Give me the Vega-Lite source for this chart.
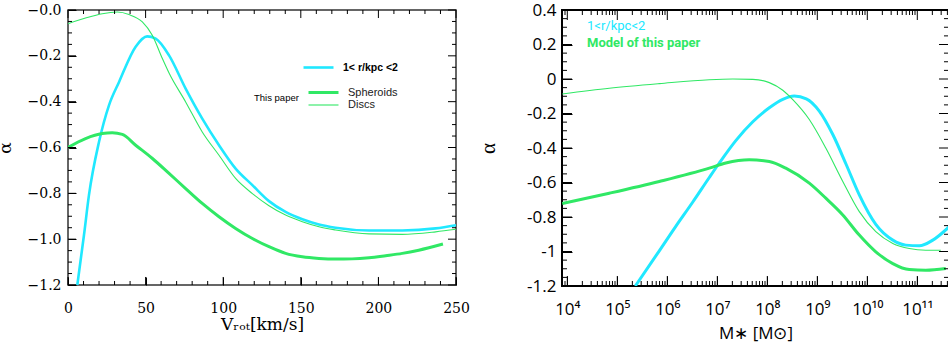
{
  "$schema": "https://vega.github.io/schema/vega-lite/v6.json",
  "padding": {"left": -5, "top": 0, "right": 0, "bottom": 0},
  "background": "white",
  "bounds": "flush",
  "spacing": 106,
  "resolve": {"scale": {"color": "independent", "strokeWidth": "independent"}, "legend": {"color": "independent", "strokeWidth": "independent"}},
  "config": {
    "view": {"stroke": "black", "strokeWidth": 1.5},
    "axis": {"labelColor": "black", "titleColor": "black", "domain": false, "grid": false, "labelFlush": false, "labelOverlap": false},
    "legend": {"padding": 0},
    "rule": {"color": "black", "strokeWidth": 1}
  },
  "datasets": {
    "lx_major": [{"t": 0}, {"t": 50}, {"t": 100}, {"t": 150}, {"t": 200}, {"t": 250}],
    "lx_minor": [{"t": 10}, {"t": 20}, {"t": 30}, {"t": 40}, {"t": 60}, {"t": 70}, {"t": 80}, {"t": 90}, {"t": 110}, {"t": 120}, {"t": 130}, {"t": 140}, {"t": 160}, {"t": 170}, {"t": 180}, {"t": 190}, {"t": 210}, {"t": 220}, {"t": 230}, {"t": 240}],
    "ly_major": [{"t": -1.2}, {"t": -1.0}, {"t": -0.8}, {"t": -0.6}, {"t": -0.4}, {"t": -0.2}, {"t": 0}],
    "ly_minor": [{"t": -1.15}, {"t": -1.1}, {"t": -1.05}, {"t": -0.95}, {"t": -0.9}, {"t": -0.85}, {"t": -0.75}, {"t": -0.7}, {"t": -0.65}, {"t": -0.55}, {"t": -0.5}, {"t": -0.45}, {"t": -0.35}, {"t": -0.3}, {"t": -0.25}, {"t": -0.15}, {"t": -0.1}, {"t": -0.05}],
    "rx_major": [{"t": 1e4}, {"t": 1e5}, {"t": 1e6}, {"t": 1e7}, {"t": 1e8}, {"t": 1e9}, {"t": 1e10}, {"t": 1e11}],
    "rx_minor": [{"t": 8000}, {"t": 9000}, {"t": 2e4}, {"t": 3e4}, {"t": 4e4}, {"t": 5e4}, {"t": 6e4}, {"t": 7e4}, {"t": 8e4}, {"t": 9e4}, {"t": 2e5}, {"t": 3e5}, {"t": 4e5}, {"t": 5e5}, {"t": 6e5}, {"t": 7e5}, {"t": 8e5}, {"t": 9e5}, {"t": 2e6}, {"t": 3e6}, {"t": 4e6}, {"t": 5e6}, {"t": 6e6}, {"t": 7e6}, {"t": 8e6}, {"t": 9e6}, {"t": 2e7}, {"t": 3e7}, {"t": 4e7}, {"t": 5e7}, {"t": 6e7}, {"t": 7e7}, {"t": 8e7}, {"t": 9e7}, {"t": 2e8}, {"t": 3e8}, {"t": 4e8}, {"t": 5e8}, {"t": 6e8}, {"t": 7e8}, {"t": 8e8}, {"t": 9e8}, {"t": 2e9}, {"t": 3e9}, {"t": 4e9}, {"t": 5e9}, {"t": 6e9}, {"t": 7e9}, {"t": 8e9}, {"t": 9e9}, {"t": 2e10}, {"t": 3e10}, {"t": 4e10}, {"t": 5e10}, {"t": 6e10}, {"t": 7e10}, {"t": 8e10}, {"t": 9e10}, {"t": 2e11}, {"t": 3e11}, {"t": 4e11}],
    "ry_major": [{"t": -1.2}, {"t": -1.0}, {"t": -0.8}, {"t": -0.6}, {"t": -0.4}, {"t": -0.2}, {"t": 0}, {"t": 0.2}, {"t": 0.4}],
    "ry_minor": [{"t": -1.15}, {"t": -1.1}, {"t": -1.05}, {"t": -0.95}, {"t": -0.9}, {"t": -0.85}, {"t": -0.75}, {"t": -0.7}, {"t": -0.65}, {"t": -0.55}, {"t": -0.5}, {"t": -0.45}, {"t": -0.35}, {"t": -0.3}, {"t": -0.25}, {"t": -0.15}, {"t": -0.1}, {"t": -0.05}, {"t": 0.05}, {"t": 0.1}, {"t": 0.15}, {"t": 0.25}, {"t": 0.3}, {"t": 0.35}],
    "left": [
      {"series": "1< r/kpc  <2", "v": 6.0, "alpha": -1.2},
      {"series": "1< r/kpc  <2", "v": 10.3, "alpha": -0.982},
      {"series": "1< r/kpc  <2", "v": 13.5, "alpha": -0.808},
      {"series": "1< r/kpc  <2", "v": 20.0, "alpha": -0.575},
      {"series": "1< r/kpc  <2", "v": 26.4, "alpha": -0.416},
      {"series": "1< r/kpc  <2", "v": 32.9, "alpha": -0.314},
      {"series": "1< r/kpc  <2", "v": 43.6, "alpha": -0.16},
      {"series": "1< r/kpc  <2", "v": 51.0, "alpha": -0.115},
      {"series": "1< r/kpc  <2", "v": 56.5, "alpha": -0.125},
      {"series": "1< r/kpc  <2", "v": 65.1, "alpha": -0.198},
      {"series": "1< r/kpc  <2", "v": 75.8, "alpha": -0.343},
      {"series": "1< r/kpc  <2", "v": 86.5, "alpha": -0.474},
      {"series": "1< r/kpc  <2", "v": 97.3, "alpha": -0.59},
      {"series": "1< r/kpc  <2", "v": 108.0, "alpha": -0.692},
      {"series": "1< r/kpc  <2", "v": 118.8, "alpha": -0.764},
      {"series": "1< r/kpc  <2", "v": 129.5, "alpha": -0.834},
      {"series": "1< r/kpc  <2", "v": 140.2, "alpha": -0.881},
      {"series": "1< r/kpc  <2", "v": 151.0, "alpha": -0.913},
      {"series": "1< r/kpc  <2", "v": 161.7, "alpha": -0.936},
      {"series": "1< r/kpc  <2", "v": 172.4, "alpha": -0.95},
      {"series": "1< r/kpc  <2", "v": 194.0, "alpha": -0.962},
      {"series": "1< r/kpc  <2", "v": 215.4, "alpha": -0.962},
      {"series": "1< r/kpc  <2", "v": 236.9, "alpha": -0.953},
      {"series": "1< r/kpc  <2", "v": 250.0, "alpha": -0.939},
      {"series": "Spheroids", "v": 0, "alpha": -0.6},
      {"series": "Spheroids", "v": 11.3, "alpha": -0.561},
      {"series": "Spheroids", "v": 22.1, "alpha": -0.539},
      {"series": "Spheroids", "v": 28.5, "alpha": -0.536},
      {"series": "Spheroids", "v": 35.0, "alpha": -0.543},
      {"series": "Spheroids", "v": 43.6, "alpha": -0.59},
      {"series": "Spheroids", "v": 54.4, "alpha": -0.648},
      {"series": "Spheroids", "v": 65.1, "alpha": -0.713},
      {"series": "Spheroids", "v": 75.8, "alpha": -0.779},
      {"series": "Spheroids", "v": 86.5, "alpha": -0.844},
      {"series": "Spheroids", "v": 97.3, "alpha": -0.902},
      {"series": "Spheroids", "v": 108.0, "alpha": -0.953},
      {"series": "Spheroids", "v": 118.8, "alpha": -0.997},
      {"series": "Spheroids", "v": 129.5, "alpha": -1.033},
      {"series": "Spheroids", "v": 140.2, "alpha": -1.062},
      {"series": "Spheroids", "v": 151.0, "alpha": -1.077},
      {"series": "Spheroids", "v": 161.7, "alpha": -1.084},
      {"series": "Spheroids", "v": 172.4, "alpha": -1.087},
      {"series": "Spheroids", "v": 183.0, "alpha": -1.086},
      {"series": "Spheroids", "v": 194.0, "alpha": -1.081},
      {"series": "Spheroids", "v": 204.7, "alpha": -1.072},
      {"series": "Spheroids", "v": 215.4, "alpha": -1.062},
      {"series": "Spheroids", "v": 226.0, "alpha": -1.048},
      {"series": "Spheroids", "v": 241.6, "alpha": -1.021},
      {"series": "Discs", "v": 0, "alpha": -0.06},
      {"series": "Discs", "v": 11.3, "alpha": -0.035},
      {"series": "Discs", "v": 22.1, "alpha": -0.016},
      {"series": "Discs", "v": 31.8, "alpha": -0.009},
      {"series": "Discs", "v": 39.3, "alpha": -0.02},
      {"series": "Discs", "v": 47.9, "alpha": -0.052},
      {"series": "Discs", "v": 54.3, "alpha": -0.11},
      {"series": "Discs", "v": 60.8, "alpha": -0.212},
      {"series": "Discs", "v": 65.1, "alpha": -0.275},
      {"series": "Discs", "v": 75.8, "alpha": -0.401},
      {"series": "Discs", "v": 86.5, "alpha": -0.532},
      {"series": "Discs", "v": 97.3, "alpha": -0.634},
      {"series": "Discs", "v": 108.0, "alpha": -0.735},
      {"series": "Discs", "v": 118.8, "alpha": -0.801},
      {"series": "Discs", "v": 129.5, "alpha": -0.854},
      {"series": "Discs", "v": 140.2, "alpha": -0.895},
      {"series": "Discs", "v": 151.0, "alpha": -0.924},
      {"series": "Discs", "v": 161.7, "alpha": -0.946},
      {"series": "Discs", "v": 172.4, "alpha": -0.96},
      {"series": "Discs", "v": 194.0, "alpha": -0.977},
      {"series": "Discs", "v": 215.4, "alpha": -0.979},
      {"series": "Discs", "v": 236.9, "alpha": -0.968},
      {"series": "Discs", "v": 250.0, "alpha": -0.957}
    ],
    "right": [
      {"curve": "obs", "src": "1<r/kpc<2", "M": 229087, "alpha": -1.2},
      {"curve": "obs", "src": "1<r/kpc<2", "M": 691831, "alpha": -0.996},
      {"curve": "obs", "src": "1<r/kpc<2", "M": 1479108, "alpha": -0.854},
      {"curve": "obs", "src": "1<r/kpc<2", "M": 3235937, "alpha": -0.713},
      {"curve": "obs", "src": "1<r/kpc<2", "M": 6918310, "alpha": -0.571},
      {"curve": "obs", "src": "1<r/kpc<2", "M": 10964782, "alpha": -0.487},
      {"curve": "obs", "src": "1<r/kpc<2", "M": 23442288, "alpha": -0.357},
      {"curve": "obs", "src": "1<r/kpc<2", "M": 51286138, "alpha": -0.248},
      {"curve": "obs", "src": "1<r/kpc<2", "M": 109647820, "alpha": -0.167},
      {"curve": "obs", "src": "1<r/kpc<2", "M": 204173794, "alpha": -0.118},
      {"curve": "obs", "src": "1<r/kpc<2", "M": 346736850, "alpha": -0.099},
      {"curve": "obs", "src": "1<r/kpc<2", "M": 602559586, "alpha": -0.115},
      {"curve": "obs", "src": "1<r/kpc<2", "M": 1096478196, "alpha": -0.186},
      {"curve": "obs", "src": "1<r/kpc<2", "M": 2041737945, "alpha": -0.322},
      {"curve": "obs", "src": "1<r/kpc<2", "M": 3801893963, "alpha": -0.497},
      {"curve": "obs", "src": "1<r/kpc<2", "M": 6918309709, "alpha": -0.672},
      {"curve": "obs", "src": "1<r/kpc<2", "M": 14791083882, "alpha": -0.843},
      {"curve": "obs", "src": "1<r/kpc<2", "M": 32359365693, "alpha": -0.934},
      {"curve": "obs", "src": "1<r/kpc<2", "M": 58884365536, "alpha": -0.963},
      {"curve": "obs", "src": "1<r/kpc<2", "M": 109647819614, "alpha": -0.967},
      {"curve": "obs", "src": "1<r/kpc<2", "M": 204173794467, "alpha": -0.934},
      {"curve": "obs", "src": "1<r/kpc<2", "M": 436515832240, "alpha": -0.856},
      {"curve": "model_1", "src": "Model of this paper", "M": 7943, "alpha": -0.722},
      {"curve": "model_1", "src": "Model of this paper", "M": 69183, "alpha": -0.662},
      {"curve": "model_1", "src": "Model of this paper", "M": 691831, "alpha": -0.594},
      {"curve": "model_1", "src": "Model of this paper", "M": 6918310, "alpha": -0.517},
      {"curve": "model_1", "src": "Model of this paper", "M": 14791084, "alpha": -0.487},
      {"curve": "model_1", "src": "Model of this paper", "M": 43651583, "alpha": -0.468},
      {"curve": "model_1", "src": "Model of this paper", "M": 109647820, "alpha": -0.478},
      {"curve": "model_1", "src": "Model of this paper", "M": 234422882, "alpha": -0.517},
      {"curve": "model_1", "src": "Model of this paper", "M": 691830971, "alpha": -0.604},
      {"curve": "model_1", "src": "Model of this paper", "M": 1479108388, "alpha": -0.691},
      {"curve": "model_1", "src": "Model of this paper", "M": 3235936569, "alpha": -0.788},
      {"curve": "model_1", "src": "Model of this paper", "M": 6918309709, "alpha": -0.905},
      {"curve": "model_1", "src": "Model of this paper", "M": 14791083882, "alpha": -1.002},
      {"curve": "model_1", "src": "Model of this paper", "M": 32359365693, "alpha": -1.07},
      {"curve": "model_1", "src": "Model of this paper", "M": 69183097092, "alpha": -1.105},
      {"curve": "model_1", "src": "Model of this paper", "M": 147910838817, "alpha": -1.109},
      {"curve": "model_1", "src": "Model of this paper", "M": 371535229097, "alpha": -1.099},
      {"curve": "model_2", "src": "Model of this paper", "M": 7943, "alpha": -0.087},
      {"curve": "model_2", "src": "Model of this paper", "M": 69183, "alpha": -0.054},
      {"curve": "model_2", "src": "Model of this paper", "M": 691831, "alpha": -0.027},
      {"curve": "model_2", "src": "Model of this paper", "M": 6918310, "alpha": -0.004},
      {"curve": "model_2", "src": "Model of this paper", "M": 20417379, "alpha": 0.0},
      {"curve": "model_2", "src": "Model of this paper", "M": 51286138, "alpha": -0.002},
      {"curve": "model_2", "src": "Model of this paper", "M": 109647820, "alpha": -0.021},
      {"curve": "model_2", "src": "Model of this paper", "M": 204173794, "alpha": -0.065},
      {"curve": "model_2", "src": "Model of this paper", "M": 323593657, "alpha": -0.12},
      {"curve": "model_2", "src": "Model of this paper", "M": 691830971, "alpha": -0.235},
      {"curve": "model_2", "src": "Model of this paper", "M": 1479108388, "alpha": -0.4},
      {"curve": "model_2", "src": "Model of this paper", "M": 3235936569, "alpha": -0.594},
      {"curve": "model_2", "src": "Model of this paper", "M": 6918309709, "alpha": -0.769},
      {"curve": "model_2", "src": "Model of this paper", "M": 14791083882, "alpha": -0.885},
      {"curve": "model_2", "src": "Model of this paper", "M": 32359365693, "alpha": -0.953},
      {"curve": "model_2", "src": "Model of this paper", "M": 69183097092, "alpha": -0.983},
      {"curve": "model_2", "src": "Model of this paper", "M": 147910838817, "alpha": -0.993},
      {"curve": "model_2", "src": "Model of this paper", "M": 295120922667, "alpha": -0.993}
    ]
  },
  "hconcat": [
    {
      "width": 388,
      "height": 275,
      "view": {"stroke": "#333333", "strokeWidth": 1.5},
      "data": {"name": "left"},
      "resolve": {"axis": {"x": "independent", "y": "independent"}},
      "layer": [
        {
          "transform": [{"filter": "datum.series === '1< r/kpc  <2'"}],
          "mark": {"type": "line", "strokeWidth": 2.6, "clip": true, "interpolate": "monotone"},
          "encoding": {
            "x": {"field": "v", "type": "quantitative", "scale": {"domain": [0, 250], "nice": false, "zero": false},
              "axis": {"orient": "bottom", "offset": -8, "tickSize": 8, "tickColor": "black", "ticks": true, "values": [0, 50, 100, 150, 200, 250],
                "labelFont": "DejaVu Serif", "labelFontSize": 14, "labelPadding": 16,
                "title": "Vᵣₒₜ[km/s]", "titleFont": "DejaVu Serif", "titleFontSize": 17, "titleFontWeight": "normal", "titlePadding": 1}},
            "y": {"field": "alpha", "type": "quantitative", "scale": {"domain": [-1.2, 0], "nice": false, "zero": false},
              "axis": {"orient": "left", "offset": -8, "tickSize": 8, "tickColor": "black", "ticks": true, "values": [-1.2, -1, -0.8, -0.6, -0.4, -0.2, 0],
                "labelExpr": "datum.value === 0 ? '−0.0' : format(datum.value, '.1f')",
                "labelFont": "DejaVu Serif", "labelFontSize": 14, "labelPadding": 7,
                "title": "α", "titleFont": "DejaVu Serif", "titleFontSize": 17, "titleFontWeight": "normal", "titlePadding": 13}},
            "color": {"field": "series", "type": "nominal", "scale": {"domain": ["1< r/kpc  <2"], "range": ["#20e8ff"]},
              "legend": {"orient": "none", "legendX": 234, "legendY": 51, "title": null, "symbolType": "M-1,0H5", "symbolSize": 100, "symbolStrokeWidth": 2.6,
                "labelFont": "Liberation Sans", "labelFontSize": 10.5, "labelFontWeight": "bold", "labelColor": "black", "labelOffset": 28}}
          }
        },
        {
          "transform": [{"filter": "datum.series === 'Spheroids'"}],
          "mark": {"type": "line", "color": "#30e865", "clip": true, "interpolate": "monotone"},
          "encoding": {
            "x": {"field": "v", "type": "quantitative", "axis": null},
            "y": {"field": "alpha", "type": "quantitative", "axis": null},
            "strokeWidth": {"field": "series", "type": "ordinal", "scale": {"domain": ["Spheroids", "Discs"], "range": [3, 1.1]},
              "legend": {"orient": "none", "legendX": 186, "legendY": 76, "title": "This paper", "titleOrient": "left", "titleFont": "Liberation Sans", "titleFontSize": 9.5, "titleFontWeight": "normal", "titleColor": "black", "titlePadding": 8,
                "symbolType": "M-1,0H5", "symbolSize": 100, "symbolStrokeColor": "#30e865", "labelOffset": 28, "labelFont": "Liberation Sans", "labelFontSize": 11, "labelColor": "#222222", "rowPadding": -1}}
          }
        },
        {
          "transform": [{"filter": "datum.series === 'Discs'"}],
          "mark": {"type": "line", "color": "#30e865", "clip": true, "interpolate": "monotone"},
          "encoding": {
            "x": {"field": "v", "type": "quantitative", "axis": null},
            "y": {"field": "alpha", "type": "quantitative", "axis": null},
            "strokeWidth": {"field": "series", "type": "ordinal", "scale": {"domain": ["Spheroids", "Discs"], "range": [3, 1.1]}}
          }
        },
        {
          "data": {"name": "lx_major"},
          "mark": {"type": "rule", "color": "black", "strokeWidth": 1},
          "encoding": {"x": {"field": "t", "type": "quantitative", "axis": null}, "y": {"datum": -1.2, "axis": null}, "y2": {"datum": -1.165}}
        },
        {
          "data": {"name": "lx_major"},
          "mark": {"type": "rule", "color": "black", "strokeWidth": 1},
          "encoding": {"x": {"field": "t", "type": "quantitative", "axis": null}, "y": {"datum": 0, "axis": null}, "y2": {"datum": -0.035}}
        },
        {
          "data": {"name": "lx_minor"},
          "mark": {"type": "rule", "color": "black", "strokeWidth": 1},
          "encoding": {"x": {"field": "t", "type": "quantitative", "axis": null}, "y": {"datum": -1.2, "axis": null}, "y2": {"datum": -1.1825}}
        },
        {
          "data": {"name": "lx_minor"},
          "mark": {"type": "rule", "color": "black", "strokeWidth": 1},
          "encoding": {"x": {"field": "t", "type": "quantitative", "axis": null}, "y": {"datum": 0, "axis": null}, "y2": {"datum": -0.0175}}
        },
        {
          "data": {"name": "ly_major"},
          "mark": {"type": "rule", "color": "black", "strokeWidth": 1},
          "encoding": {"y": {"field": "t", "type": "quantitative", "axis": null}, "x": {"datum": 0, "axis": null}, "x2": {"datum": 5.15}}
        },
        {
          "data": {"name": "ly_major"},
          "mark": {"type": "rule", "color": "black", "strokeWidth": 1},
          "encoding": {"y": {"field": "t", "type": "quantitative", "axis": null}, "x": {"datum": 250, "axis": null}, "x2": {"datum": 244.85}}
        },
        {
          "data": {"name": "ly_minor"},
          "mark": {"type": "rule", "color": "black", "strokeWidth": 1},
          "encoding": {"y": {"field": "t", "type": "quantitative", "axis": null}, "x": {"datum": 0, "axis": null}, "x2": {"datum": 2.58}}
        },
        {
          "data": {"name": "ly_minor"},
          "mark": {"type": "rule", "color": "black", "strokeWidth": 1},
          "encoding": {"y": {"field": "t", "type": "quantitative", "axis": null}, "x": {"datum": 250, "axis": null}, "x2": {"datum": 247.42}}
        }
      ]
    },
    {
      "width": 387,
      "height": 276,
      "view": {"stroke": "black", "strokeWidth": 2},
      "data": {"name": "right"},
      "resolve": {"axis": {"x": "independent", "y": "independent"}},
      "layer": [
        {
          "transform": [{"filter": "datum.curve === 'obs'"}],
          "mark": {"type": "line", "strokeWidth": 3, "clip": true, "interpolate": "monotone"},
          "encoding": {
            "x": {"field": "M", "type": "quantitative", "scale": {"type": "log", "domain": [7834, 430500000000], "nice": false},
              "axis": {"orient": "bottom", "offset": -10, "tickSize": 10, "tickColor": "black", "ticks": true, "values": [1e4,1e5,1e6,1e7,1e8,1e9,1e10,1e11],
                "labelExpr": "'10' + ['⁰','¹','²','³','⁴','⁵','⁶','⁷','⁸','⁹','¹⁰','¹¹'][round(log(datum.value)/LN10)]",
                "labelFont": "Open Sans", "labelFontSize": 17, "labelPadding": 15,
                "title": "M∗ [M⊙]", "titleFont": "Open Sans", "titleFontSize": 17, "titleFontWeight": "normal", "titlePadding": 8}},
            "y": {"field": "alpha", "type": "quantitative", "scale": {"domain": [-1.2, 0.4], "nice": false, "zero": false},
              "axis": {"orient": "left", "offset": -10, "tickSize": 10, "tickColor": "black", "ticks": true, "values": [-1.2,-1,-0.8,-0.6,-0.4,-0.2,0,0.2,0.4],
                "labelExpr": "replace(format(datum.value, '.1~f'), '−', '-')",
                "labelFont": "Open Sans", "labelFontSize": 17, "labelPadding": 6,
                "title": "α", "titleFont": "Liberation Serif", "titleFontSize": 21, "titleFontWeight": "normal", "titlePadding": 28}},
            "color": {"field": "src", "type": "nominal", "scale": {"domain": ["1<r/kpc<2", "Model of this paper"], "range": ["#20e8ff", "#30e865"]},
              "legend": {"orient": "none", "legendX": 12, "legendY": 9, "title": null, "symbolOpacity": 0, "symbolStrokeWidth": 0, "symbolSize": 1, "labelOffset": 0, "rowPadding": 3,
                "labelFont": "Liberation Sans Narrow, Roboto", "labelFontSize": 13,
                "encode": {"labels": {"update": {"fill": {"signal": "datum.value === 'Model of this paper' ? '#30e865' : '#20e8ff'"}, "fontWeight": {"signal": "datum.value === 'Model of this paper' ? 'bold' : 'normal'"}}}}}}
          }
        },
        {
          "transform": [{"filter": "datum.curve === 'model_1'"}],
          "mark": {"type": "line", "strokeWidth": 3, "clip": true, "interpolate": "monotone"},
          "encoding": {
            "x": {"field": "M", "type": "quantitative", "axis": null},
            "y": {"field": "alpha", "type": "quantitative", "axis": null},
            "color": {"field": "src", "type": "nominal"}
          }
        },
        {
          "transform": [{"filter": "datum.curve === 'model_2'"}],
          "mark": {"type": "line", "strokeWidth": 1.1, "clip": true, "interpolate": "monotone"},
          "encoding": {
            "x": {"field": "M", "type": "quantitative", "axis": null},
            "y": {"field": "alpha", "type": "quantitative", "axis": null},
            "color": {"field": "src", "type": "nominal"}
          }
        },
        {
          "data": {"name": "rx_major"},
          "mark": {"type": "rule", "color": "black", "strokeWidth": 1},
          "encoding": {"x": {"field": "t", "type": "quantitative", "axis": null}, "y": {"datum": -1.2, "axis": null}, "y2": {"datum": -1.142}}
        },
        {
          "data": {"name": "rx_major"},
          "mark": {"type": "rule", "color": "black", "strokeWidth": 1},
          "encoding": {"x": {"field": "t", "type": "quantitative", "axis": null}, "y": {"datum": 0.4, "axis": null}, "y2": {"datum": 0.342}}
        },
        {
          "data": {"name": "rx_minor"},
          "mark": {"type": "rule", "color": "black", "strokeWidth": 1},
          "encoding": {"x": {"field": "t", "type": "quantitative", "axis": null}, "y": {"datum": -1.2, "axis": null}, "y2": {"datum": -1.171}}
        },
        {
          "data": {"name": "rx_minor"},
          "mark": {"type": "rule", "color": "black", "strokeWidth": 1},
          "encoding": {"x": {"field": "t", "type": "quantitative", "axis": null}, "y": {"datum": 0.4, "axis": null}, "y2": {"datum": 0.371}}
        },
        {
          "data": {"name": "ry_major"},
          "mark": {"type": "rule", "color": "black", "strokeWidth": 1},
          "encoding": {"y": {"field": "t", "type": "quantitative", "axis": null}, "x": {"datum": 7834, "axis": null}, "x2": {"datum": 12416}}
        },
        {
          "data": {"name": "ry_major"},
          "mark": {"type": "rule", "color": "black", "strokeWidth": 1},
          "encoding": {"y": {"field": "t", "type": "quantitative", "axis": null}, "x": {"datum": 430500000000, "axis": null}, "x2": {"datum": 271600000000}}
        },
        {
          "data": {"name": "ry_minor"},
          "mark": {"type": "rule", "color": "black", "strokeWidth": 1},
          "encoding": {"y": {"field": "t", "type": "quantitative", "axis": null}, "x": {"datum": 7834, "axis": null}, "x2": {"datum": 9862}}
        },
        {
          "data": {"name": "ry_minor"},
          "mark": {"type": "rule", "color": "black", "strokeWidth": 1},
          "encoding": {"y": {"field": "t", "type": "quantitative", "axis": null}, "x": {"datum": 430500000000, "axis": null}, "x2": {"datum": 341900000000}}
        }
      ]
    }
  ]
}
